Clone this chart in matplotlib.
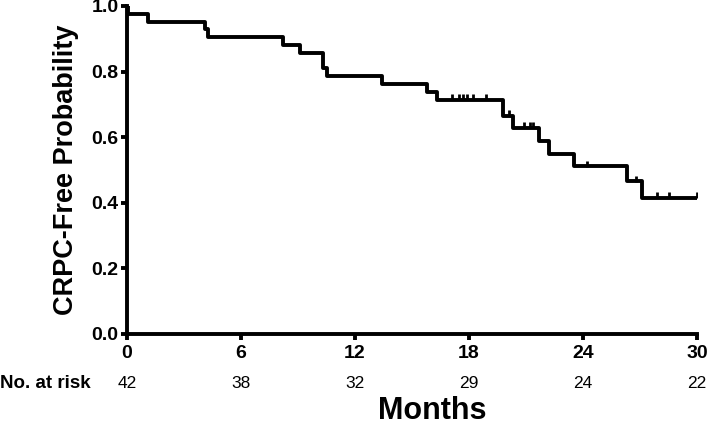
import matplotlib
matplotlib.use("Agg")
import matplotlib.pyplot as plt
from matplotlib.transforms import blended_transform_factory

# Kaplan-Meier steps
event_times = [0, 0.05, 1.1, 4.1, 4.25, 8.2, 9.1, 10.3, 10.5, 13.4, 15.8, 16.3,
               19.8, 20.3, 21.7, 22.2, 23.5, 26.3, 27.1, 30]
survival = [1.0, 0.976, 0.952, 0.929, 0.905, 0.881, 0.857, 0.810, 0.786, 0.762,
            0.738, 0.714, 0.665, 0.628, 0.588, 0.548, 0.511, 0.465, 0.415, 0.415]

censor_times = [17.1, 17.45, 17.7, 17.9, 18.2, 18.9, 20.1, 20.9, 21.2, 21.35,
                24.2, 26.8, 27.9, 28.5, 30]
censor_surv = [0.714, 0.714, 0.714, 0.714, 0.714, 0.714, 0.665, 0.628, 0.628, 0.628,
               0.511, 0.465, 0.415, 0.415, 0.415]

risk_times = [0, 6, 12, 18, 24, 30]
at_risk = [42, 38, 32, 29, 24, 22]

plt.rcParams['font.family'] = ['Liberation Sans', 'DejaVu Sans']

fig = plt.figure(figsize=(7.08, 4.26), dpi=100)
ax = fig.add_axes([127 / 708, 92 / 426, 570 / 708, 328 / 426])

ax.step(event_times, survival, where='post', color='black', lw=2.8)
ax.plot(censor_times, [s + 0.008 for s in censor_surv], ls='none', marker='|',
        color='black', ms=4, mew=2)

ax.set_xlim(0, 30)
ax.set_ylim(0, 1.0)
ax.set_xticks(risk_times)
ax.set_yticks([0, 0.2, 0.4, 0.6, 0.8, 1.0])
ax.set_yticklabels(['0.0', '0.2', '0.4', '0.6', '0.8', '1.0'])
ax.spines['top'].set_visible(False)
ax.spines['right'].set_visible(False)
for s in ['left', 'bottom']:
    ax.spines[s].set_linewidth(2.8)
ax.tick_params(width=2.8, length=4)
ax.tick_params(axis='y', pad=2)
ax.tick_params(axis='x', pad=4)
for lab in ax.get_xticklabels() + ax.get_yticklabels():
    lab.set_fontweight('bold')
    lab.set_fontsize(14)

ax.set_ylabel('CRPC-Free Probability', fontsize=19.5, fontweight='bold', labelpad=9)

# number at risk row
for t, n in zip(risk_times, at_risk):
    ax.text(t, (426 - 383) / 426, str(n), ha='center', va='center', fontsize=12.5,
            transform=blended_transform_factory(ax.transData, fig.transFigure))
fig.text(0.0, (426 - 383) / 426, 'No. at risk', ha='left', va='center',
         fontsize=13.5, fontweight='bold')

fig.text(432 / 708, (426 - 411) / 426, 'Months', ha='center', va='center',
         fontsize=22, fontweight='bold')

fig.savefig('out.png', dpi=100)
